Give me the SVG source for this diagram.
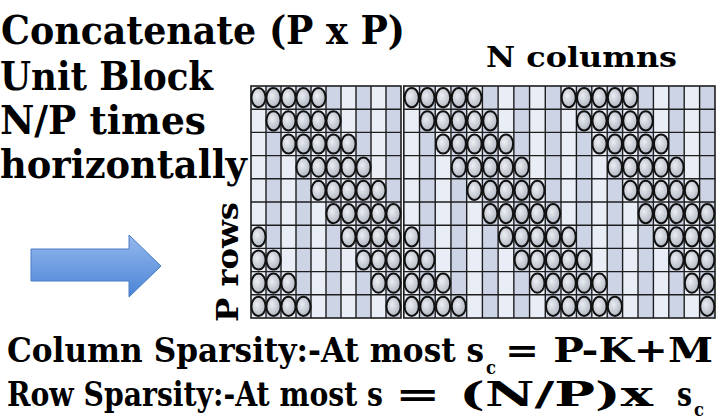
<svg xmlns="http://www.w3.org/2000/svg" xmlns:xlink="http://www.w3.org/1999/xlink" width="716" height="420" viewBox="0 0 716 420">
<style>
.t{font-family:"DejaVu Serif","Liberation Serif",serif;font-weight:bold;fill:#000}
.lc{fill:#e9edf5}
.dc{fill:#ccd4e6}
.gl{stroke:#1e1e1e;stroke-width:1.4;fill:none}
.bd{stroke:#1e1e1e;stroke-width:1.6;fill:none}
</style>
<defs>
<radialGradient id="cg" cx="0.4" cy="0.4" r="0.7">
<stop offset="0" stop-color="#eef0f3" stop-opacity="0.9"/>
<stop offset="1" stop-color="#a2a8b4" stop-opacity="0.8"/>
</radialGradient>
<linearGradient id="ag" x1="0" y1="0" x2="0" y2="1">
<stop offset="0" stop-color="#95b8ee"/>
<stop offset="1" stop-color="#4a84d6"/>
</linearGradient>
<ellipse id="c" cx="0" cy="0" rx="7.1" ry="9.6" fill="url(#cg)" stroke="#111" stroke-width="2"/>
</defs>
<rect width="716" height="420" fill="#fff"/>

<g id="title">
<text class="t" x="1" y="44" font-size="39" textLength="404" lengthAdjust="spacingAndGlyphs">Concatenate (P x P)</text>
<text class="t" x="0" y="90" font-size="39" textLength="213" lengthAdjust="spacingAndGlyphs">Unit Block</text>
<text class="t" x="0" y="134" font-size="39" textLength="206" lengthAdjust="spacingAndGlyphs">N/P times</text>
<text class="t" x="0" y="178" font-size="39" textLength="247" lengthAdjust="spacingAndGlyphs">horizontally</text>
</g>

<g id="ncols">
<text class="t" x="486" y="67" font-size="27" textLength="191" lengthAdjust="spacingAndGlyphs">N columns</text>
</g>

<g id="prows">
<text class="t" transform="translate(238,322) rotate(-90)" x="0" y="0" font-size="30" textLength="120" lengthAdjust="spacingAndGlyphs">P rows</text>
</g>

<g id="arrow">
<path d="M31,249 L129,249 L129,235 L161,266 L129,297 L129,281 L31,281 Z" fill="url(#ag)" stroke="#4a7cc4" stroke-width="1"/>
</g>

<g id="grid">
<g id="block1">
<rect class="lc" x="251" y="86" width="15" height="232"/>
<rect class="dc" x="266" y="86" width="15" height="232"/>
<rect class="lc" x="281" y="86" width="15" height="232"/>
<rect class="dc" x="296" y="86" width="15" height="232"/>
<rect class="lc" x="311" y="86" width="15" height="232"/>
<rect class="dc" x="326" y="86" width="15" height="232"/>
<rect class="lc" x="341" y="86" width="15" height="232"/>
<rect class="dc" x="356" y="86" width="15" height="232"/>
<rect class="lc" x="371" y="86" width="15" height="232"/>
<rect class="dc" x="386" y="86" width="15" height="232"/>
<path class="gl" d="M266,86V318M281,86V318M296,86V318M311,86V318M326,86V318M341,86V318M356,86V318M371,86V318M386,86V318M251,109.2H401M251,132.4H401M251,155.6H401M251,178.8H401M251,202H401M251,225.2H401M251,248.4H401M251,271.6H401M251,294.8H401"/>
<rect class="bd" x="251" y="86" width="150" height="232"/>
</g>
<g id="block2">
<rect class="lc" x="403.8" y="86" width="15.72" height="232"/>
<rect class="dc" x="419.52" y="86" width="15.72" height="232"/>
<rect class="lc" x="435.24" y="86" width="15.72" height="232"/>
<rect class="dc" x="450.96" y="86" width="15.72" height="232"/>
<rect class="lc" x="466.68" y="86" width="15.72" height="232"/>
<rect class="dc" x="482.4" y="86" width="15.72" height="232"/>
<rect class="lc" x="498.12" y="86" width="15.72" height="232"/>
<rect class="dc" x="513.84" y="86" width="15.72" height="232"/>
<rect class="lc" x="529.56" y="86" width="15.72" height="232"/>
<rect class="dc" x="545.28" y="86" width="15.72" height="232"/>
<rect class="lc" x="561" y="86" width="15.4" height="232"/>
<rect class="dc" x="576.4" y="86" width="15.4" height="232"/>
<rect class="lc" x="591.8" y="86" width="15.4" height="232"/>
<rect class="dc" x="607.2" y="86" width="15.4" height="232"/>
<rect class="lc" x="622.6" y="86" width="15.4" height="232"/>
<rect class="dc" x="638" y="86" width="15.4" height="232"/>
<rect class="lc" x="653.4" y="86" width="15.4" height="232"/>
<rect class="dc" x="668.8" y="86" width="15.4" height="232"/>
<rect class="lc" x="684.2" y="86" width="15.4" height="232"/>
<rect class="dc" x="699.6" y="86" width="15.4" height="232"/>
<path class="gl" d="M419.52,86V318M435.24,86V318M450.96,86V318M466.68,86V318M482.4,86V318M498.12,86V318M513.84,86V318M529.56,86V318M545.28,86V318M561,86V318M576.4,86V318M591.8,86V318M607.2,86V318M622.6,86V318M638,86V318M653.4,86V318M668.8,86V318M684.2,86V318M699.6,86V318M403.8,109.2H715M403.8,132.4H715M403.8,155.6H715M403.8,178.8H715M403.8,202H715M403.8,225.2H715M403.8,248.4H715M403.8,271.6H715M403.8,294.8H715"/>
<rect class="bd" x="403.8" y="86" width="311.2" height="232"/>
</g>
</g>

<g id="circles">
<!-- block 1 -->
<use xlink:href="#c" x="258.5" y="97.6"/><use xlink:href="#c" x="273.5" y="97.6"/><use xlink:href="#c" x="288.5" y="97.6"/><use xlink:href="#c" x="303.5" y="97.6"/><use xlink:href="#c" x="318.5" y="97.6"/>
<use xlink:href="#c" x="273.5" y="120.8"/><use xlink:href="#c" x="288.5" y="120.8"/><use xlink:href="#c" x="303.5" y="120.8"/><use xlink:href="#c" x="318.5" y="120.8"/><use xlink:href="#c" x="333.5" y="120.8"/>
<use xlink:href="#c" x="288.5" y="144"/><use xlink:href="#c" x="303.5" y="144"/><use xlink:href="#c" x="318.5" y="144"/><use xlink:href="#c" x="333.5" y="144"/><use xlink:href="#c" x="348.5" y="144"/>
<use xlink:href="#c" x="303.5" y="167.2"/><use xlink:href="#c" x="318.5" y="167.2"/><use xlink:href="#c" x="333.5" y="167.2"/><use xlink:href="#c" x="348.5" y="167.2"/><use xlink:href="#c" x="363.5" y="167.2"/>
<use xlink:href="#c" x="318.5" y="190.4"/><use xlink:href="#c" x="333.5" y="190.4"/><use xlink:href="#c" x="348.5" y="190.4"/><use xlink:href="#c" x="363.5" y="190.4"/><use xlink:href="#c" x="378.5" y="190.4"/>
<use xlink:href="#c" x="333.5" y="213.6"/><use xlink:href="#c" x="348.5" y="213.6"/><use xlink:href="#c" x="363.5" y="213.6"/><use xlink:href="#c" x="378.5" y="213.6"/><use xlink:href="#c" x="393.5" y="213.6"/>
<use xlink:href="#c" x="348.5" y="236.8"/><use xlink:href="#c" x="363.5" y="236.8"/><use xlink:href="#c" x="378.5" y="236.8"/><use xlink:href="#c" x="393.5" y="236.8"/><use xlink:href="#c" x="258.5" y="236.8"/>
<use xlink:href="#c" x="363.5" y="260"/><use xlink:href="#c" x="378.5" y="260"/><use xlink:href="#c" x="393.5" y="260"/><use xlink:href="#c" x="258.5" y="260"/><use xlink:href="#c" x="273.5" y="260"/>
<use xlink:href="#c" x="378.5" y="283.2"/><use xlink:href="#c" x="393.5" y="283.2"/><use xlink:href="#c" x="258.5" y="283.2"/><use xlink:href="#c" x="273.5" y="283.2"/><use xlink:href="#c" x="288.5" y="283.2"/>
<use xlink:href="#c" x="393.5" y="306.4"/><use xlink:href="#c" x="258.5" y="306.4"/><use xlink:href="#c" x="273.5" y="306.4"/><use xlink:href="#c" x="288.5" y="306.4"/><use xlink:href="#c" x="303.5" y="306.4"/>
<!-- block 2 -->
<use xlink:href="#c" x="411.7" y="97.6"/><use xlink:href="#c" x="427.4" y="97.6"/><use xlink:href="#c" x="443.1" y="97.6"/><use xlink:href="#c" x="458.8" y="97.6"/><use xlink:href="#c" x="474.5" y="97.6"/>
<use xlink:href="#c" x="427.4" y="120.8"/><use xlink:href="#c" x="443.1" y="120.8"/><use xlink:href="#c" x="458.8" y="120.8"/><use xlink:href="#c" x="474.5" y="120.8"/><use xlink:href="#c" x="490.3" y="120.8"/>
<use xlink:href="#c" x="443.1" y="144"/><use xlink:href="#c" x="458.8" y="144"/><use xlink:href="#c" x="474.5" y="144"/><use xlink:href="#c" x="490.3" y="144"/><use xlink:href="#c" x="506" y="144"/>
<use xlink:href="#c" x="458.8" y="167.2"/><use xlink:href="#c" x="474.5" y="167.2"/><use xlink:href="#c" x="490.3" y="167.2"/><use xlink:href="#c" x="506" y="167.2"/><use xlink:href="#c" x="521.7" y="167.2"/>
<use xlink:href="#c" x="474.5" y="190.4"/><use xlink:href="#c" x="490.3" y="190.4"/><use xlink:href="#c" x="506" y="190.4"/><use xlink:href="#c" x="521.7" y="190.4"/><use xlink:href="#c" x="537.4" y="190.4"/>
<use xlink:href="#c" x="490.3" y="213.6"/><use xlink:href="#c" x="506" y="213.6"/><use xlink:href="#c" x="521.7" y="213.6"/><use xlink:href="#c" x="537.4" y="213.6"/><use xlink:href="#c" x="553.1" y="213.6"/>
<use xlink:href="#c" x="506" y="236.8"/><use xlink:href="#c" x="521.7" y="236.8"/><use xlink:href="#c" x="537.4" y="236.8"/><use xlink:href="#c" x="553.1" y="236.8"/><use xlink:href="#c" x="411.7" y="236.8"/>
<use xlink:href="#c" x="521.7" y="260"/><use xlink:href="#c" x="537.4" y="260"/><use xlink:href="#c" x="553.1" y="260"/><use xlink:href="#c" x="411.7" y="260"/><use xlink:href="#c" x="427.4" y="260"/>
<use xlink:href="#c" x="537.4" y="283.2"/><use xlink:href="#c" x="553.1" y="283.2"/><use xlink:href="#c" x="411.7" y="283.2"/><use xlink:href="#c" x="427.4" y="283.2"/><use xlink:href="#c" x="443.1" y="283.2"/>
<use xlink:href="#c" x="553.1" y="306.4"/><use xlink:href="#c" x="411.7" y="306.4"/><use xlink:href="#c" x="427.4" y="306.4"/><use xlink:href="#c" x="443.1" y="306.4"/><use xlink:href="#c" x="458.8" y="306.4"/>
<!-- block 3 -->
<use xlink:href="#c" x="568.7" y="97.6"/><use xlink:href="#c" x="584.1" y="97.6"/><use xlink:href="#c" x="599.5" y="97.6"/><use xlink:href="#c" x="614.9" y="97.6"/><use xlink:href="#c" x="630.3" y="97.6"/>
<use xlink:href="#c" x="584.1" y="120.8"/><use xlink:href="#c" x="599.5" y="120.8"/><use xlink:href="#c" x="614.9" y="120.8"/><use xlink:href="#c" x="630.3" y="120.8"/><use xlink:href="#c" x="645.7" y="120.8"/>
<use xlink:href="#c" x="599.5" y="144"/><use xlink:href="#c" x="614.9" y="144"/><use xlink:href="#c" x="630.3" y="144"/><use xlink:href="#c" x="645.7" y="144"/><use xlink:href="#c" x="661.1" y="144"/>
<use xlink:href="#c" x="614.9" y="167.2"/><use xlink:href="#c" x="630.3" y="167.2"/><use xlink:href="#c" x="645.7" y="167.2"/><use xlink:href="#c" x="661.1" y="167.2"/><use xlink:href="#c" x="676.5" y="167.2"/>
<use xlink:href="#c" x="630.3" y="190.4"/><use xlink:href="#c" x="645.7" y="190.4"/><use xlink:href="#c" x="661.1" y="190.4"/><use xlink:href="#c" x="676.5" y="190.4"/><use xlink:href="#c" x="691.9" y="190.4"/>
<use xlink:href="#c" x="645.7" y="213.6"/><use xlink:href="#c" x="661.1" y="213.6"/><use xlink:href="#c" x="676.5" y="213.6"/><use xlink:href="#c" x="691.9" y="213.6"/><use xlink:href="#c" x="707.3" y="213.6"/>
<use xlink:href="#c" x="661.1" y="236.8"/><use xlink:href="#c" x="676.5" y="236.8"/><use xlink:href="#c" x="691.9" y="236.8"/><use xlink:href="#c" x="707.3" y="236.8"/><use xlink:href="#c" x="568.7" y="236.8"/>
<use xlink:href="#c" x="676.5" y="260"/><use xlink:href="#c" x="691.9" y="260"/><use xlink:href="#c" x="707.3" y="260"/><use xlink:href="#c" x="568.7" y="260"/><use xlink:href="#c" x="584.1" y="260"/>
<use xlink:href="#c" x="691.9" y="283.2"/><use xlink:href="#c" x="707.3" y="283.2"/><use xlink:href="#c" x="568.7" y="283.2"/><use xlink:href="#c" x="584.1" y="283.2"/><use xlink:href="#c" x="599.5" y="283.2"/>
<use xlink:href="#c" x="707.3" y="306.4"/><use xlink:href="#c" x="568.7" y="306.4"/><use xlink:href="#c" x="584.1" y="306.4"/><use xlink:href="#c" x="599.5" y="306.4"/><use xlink:href="#c" x="614.9" y="306.4"/>
</g>

<g id="sparsity">
<text class="t" y="362" font-size="34"><tspan x="7" textLength="477" lengthAdjust="spacingAndGlyphs">Column Sparsity:-At most s</tspan><tspan x="486" dy="12" font-size="18" textLength="10" lengthAdjust="spacingAndGlyphs">c</tspan><tspan x="505" dy="-12" textLength="208" lengthAdjust="spacingAndGlyphs">= P-K+M</tspan></text>
<text class="t" y="406" font-size="34"><tspan x="7" textLength="376" lengthAdjust="spacingAndGlyphs">Row Sparsity:-At most s</tspan><tspan x="395" textLength="258" lengthAdjust="spacingAndGlyphs">= (N/P)x</tspan><tspan x="677" textLength="15" lengthAdjust="spacingAndGlyphs">s</tspan><tspan x="694" dy="10" font-size="18" textLength="10" lengthAdjust="spacingAndGlyphs">c</tspan></text>
</g>
</svg>
